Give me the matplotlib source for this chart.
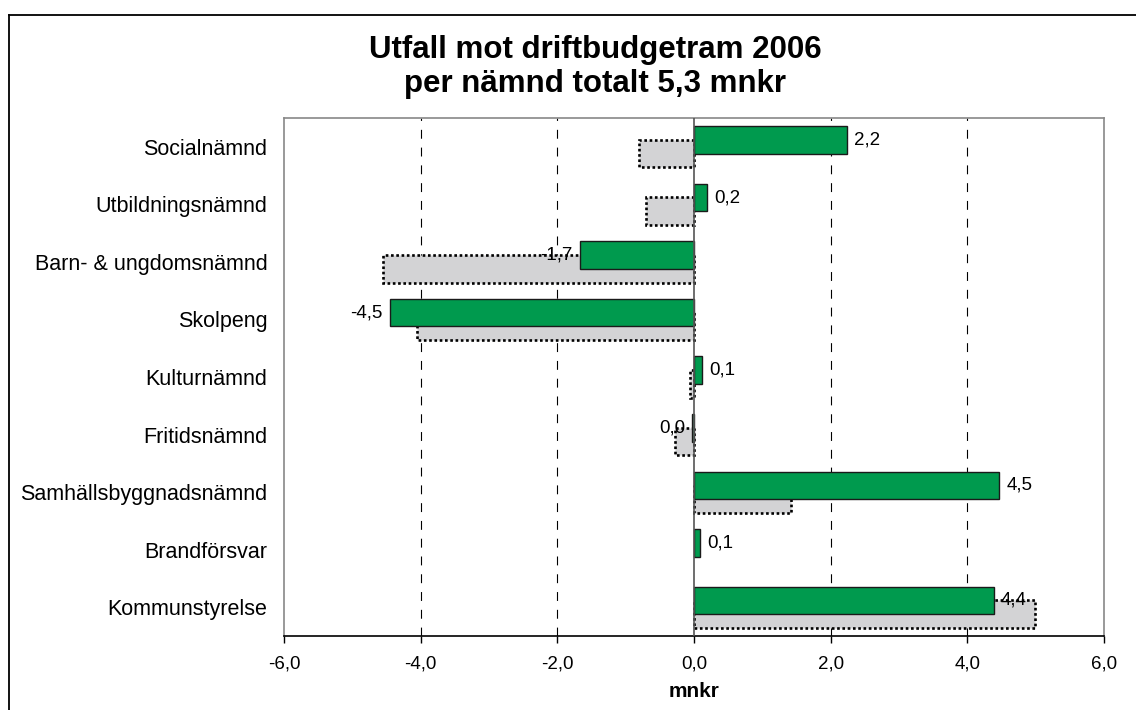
import matplotlib.pyplot as plt
import numpy as np
from matplotlib.lines import Line2D

plt.rcParams["font.family"] = ["Liberation Sans", "DejaVu Sans"]

categories = [
    "Socialnämnd",
    "Utbildningsnämnd",
    "Barn- & ungdomsnämnd",
    "Skolpeng",
    "Kulturnämnd",
    "Fritidsnämnd",
    "Samhällsbyggnadsnämnd",
    "Brandförsvar",
    "Kommunstyrelse",
]
utfall_2006 = [2.24, 0.19, -1.67, -4.45, 0.12, -0.03, 4.47, 0.09, 4.39]
jamforelse = [-0.80, -0.70, -4.55, -4.06, -0.06, -0.28, 1.42, 0.0, 4.99]
xticks = [-6, -4, -2, 0, 2, 4, 6]


def fmt(v):
    v = round(v, 1)
    if v == 0:
        return "0,0"
    return f"{v:.1f}".replace(".", ",")


fig = plt.figure(figsize=(11.36, 7.1), dpi=100)
ax = fig.add_axes([0.25, 0.1042, 0.7218, 0.7296])

y = np.arange(len(categories))
h = 0.48
off = 0.118

gray_edges = ["black" if v != 0 else "none" for v in jamforelse]
ax.barh(y + off, jamforelse, height=h, color="#D3D3D5", edgecolor=gray_edges,
        linewidth=1.9, linestyle=(0, (1, 1)), zorder=2)
ax.barh(y - off, utfall_2006, height=h, color="#009A4E", edgecolor="#1a1a1a",
        linewidth=1.0, zorder=3)

for yi, v in zip(y, utfall_2006):
    if v >= 0:
        ax.annotate(fmt(v), (v, yi - off), xytext=(5, 0), textcoords="offset points",
                    ha="left", va="center", fontsize=13.5, zorder=4)
    else:
        ax.annotate(fmt(v), (v, yi - off), xytext=(-5, 0), textcoords="offset points",
                    ha="right", va="center", fontsize=13.5, zorder=4)

ax.set_xlim(-6, 6)
ax.set_ylim(len(categories) - 0.5, -0.5)
ax.set_yticks(y)
ax.set_yticklabels(categories, fontsize=15.5)
ax.tick_params(axis="y", length=0, pad=12)
ax.set_xticks(xticks)
ax.set_xticklabels([f"{t:.1f}".replace(".", ",") for t in xticks], fontsize=13.5)
ax.tick_params(axis="x", direction="out", length=5, width=1, pad=9, color="black")

for t in [-4, -2, 2, 4]:
    ax.axvline(t, color="black", linewidth=0.8, linestyle=(0, (8, 8)), zorder=1)
ax.axvline(0, color="#555555", linewidth=1.2, zorder=4)

for side in ["left", "right", "top"]:
    ax.spines[side].set_color("#888888")
    ax.spines[side].set_linewidth(1.2)
ax.spines["bottom"].set_color("black")
ax.spines["bottom"].set_linewidth(1.2)

ax.set_xlabel("mnkr", fontsize=15, fontweight="bold", labelpad=7)

fig.text(0.524, 0.906, "Utfall mot driftbudgetram 2006\nper nämnd totalt 5,3 mnkr",
         ha="center", va="center", fontsize=22.5, fontweight="bold", linespacing=1.18)

# figure frame (left and top edges visible)
fig.add_artist(Line2D([9 / 1136, 9 / 1136], [0, 1 - 15 / 710], color="black", linewidth=1.3,
                      transform=fig.transFigure))
fig.add_artist(Line2D([9 / 1136, 1], [1 - 15 / 710, 1 - 15 / 710], color="black", linewidth=1.3,
                      transform=fig.transFigure))

fig.savefig("out.png", dpi=100)
